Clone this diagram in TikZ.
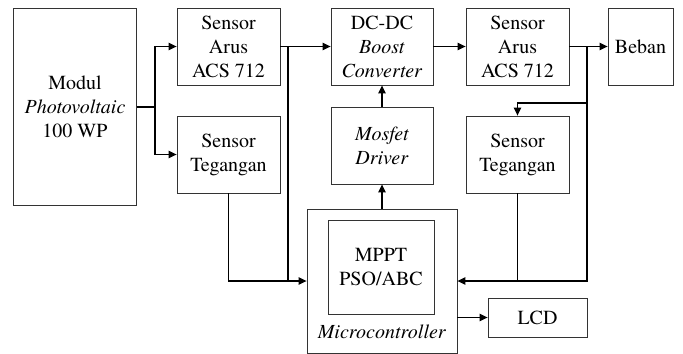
\documentclass[tikz,border=0pt]{standalone}
\usepackage{fontspec}
\setmainfont{texgyretermes}[Extension=.otf,UprightFont=*-regular,
  ItalicFont=*-italic,BoldFont=*-bold,BoldItalicFont=*-bolditalic]
\usetikzlibrary{arrows.meta}

\begin{document}
\begin{tikzpicture}[x=0.75pt,y=-0.75pt,>={Triangle[length=6pt,width=5.5pt]},
    every node/.style={font=\fontsize{15}{18}\selectfont},
    blok/.style={draw=black!80,line width=0.6pt,inner sep=0pt,align=center},
    garis/.style={line width=0.9pt}]
  \useasboundingbox (0,0) rectangle (683,354);
  % blocks
  \node[blok,minimum width=92pt,minimum height=147.75pt] (pv) at (75,106.5)
    {Modul\\\textit{Photovoltaic}\\100 WP};
  \node[blok,minimum width=77.25pt,minimum height=57.75pt] (sa1) at (228.5,46.5)
    {Sensor\\Arus\\ACS 712};
  \node[blok,minimum width=77.25pt,minimum height=57.75pt] (st1) at (228.5,154.5)
    {Sensor\\Tegangan};
  \node[blok,minimum width=76.5pt,minimum height=57.75pt] (conv) at (382,46.5)
    {DC-DC\\\textit{Boost}\\\textit{Converter}};
  \node[blok,minimum width=76.5pt,minimum height=57.75pt] (drv) at (382,145.5)
    {\textit{Mosfet}\\\textit{Driver}};
  \node[blok,minimum width=77.25pt,minimum height=57.75pt] (sa2) at (517.5,46.5)
    {Sensor\\Arus\\ACS 712};
  \node[blok,minimum width=77.25pt,minimum height=57.75pt] (st2) at (517.5,154.5)
    {Sensor\\Tegangan};
  \node[blok,minimum width=48.75pt,minimum height=57.75pt] (beban) at (640.5,46.5)
    {Beban};
  \node[blok,minimum width=112.5pt,minimum height=108pt] (mcu) at (382,281) {};
  \node[blok,minimum width=79.5pt,minimum height=70.5pt] (mppt) at (381,267)
    {MPPT\\PSO/ABC};
  \node (mcutxt) at (382,332) {\textit{Microcontroller}};
  \node[blok,minimum width=74.25pt,minimum height=29.25pt] (lcd) at (537.5,317.5)
    {LCD};
  % junctions
  \coordinate (pvsplit) at (155,107);
  \coordinate (arus1) at (288,47);
  \coordinate (arus2) at (587,47);
  \coordinate (teg2) at (587,103);
  % connectors
  \draw[garis] (pv.east |- pvsplit) -- (pvsplit);
  \draw[garis,->] (pvsplit) |- (sa1.west);
  \draw[garis,->] (pvsplit) |- (st1.west);
  \draw[garis,->] (sa1.east) -- (conv.west);
  \draw[garis] (arus1) -- (arus1 |- mcu.west);
  \draw[garis,->] (st1.south) |- (mcu.west);
  \draw[garis,->] (conv.east) -- (sa2.west);
  \draw[garis,->] (sa2.east) -- (beban.west);
  \draw[garis,->] (arus2) |- (mcu.east);
  \draw[garis,->] (teg2) -| (st2.north);
  \draw[garis] (st2.south) -- (st2.south |- mcu.east);
  \draw[garis,->] (drv.north) -- (conv.south);
  \draw[garis,->] (mcu.north) -- (drv.south);
  \draw[garis,->] (lcd.west -| mcu.east) -- (lcd.west);
\end{tikzpicture}
\end{document}
